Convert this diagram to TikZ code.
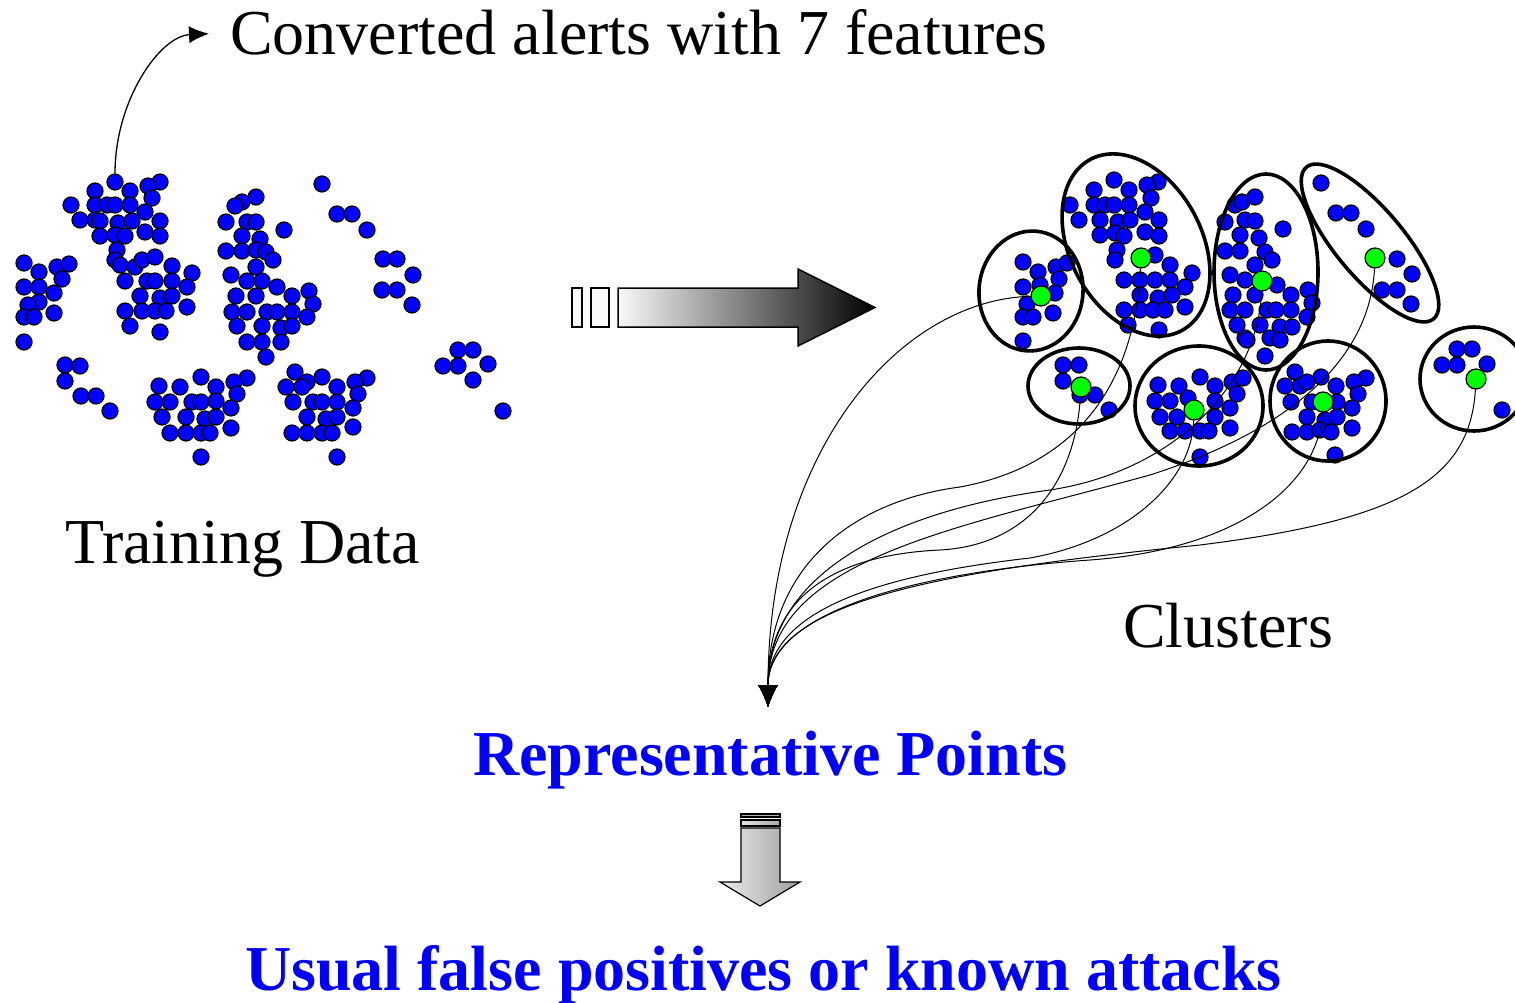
\documentclass[tikz,border=0pt]{standalone}
\usepackage{fontspec}
\setmainfont{Liberation Serif}
\usetikzlibrary{arrows.meta}

\tikzset{
  alertdot/.style={draw=black, fill=blue, line width=1.2pt},
  alertnode/.style={circle, draw=black, fill=blue, line width=1.2pt, minimum size=16pt, inner sep=0pt},
  repnode/.style={circle, draw=black, fill=green, line width=1.2pt, minimum size=20pt, inner sep=0pt},
  cluster/.style={draw=black, line width=3.6pt},
  link/.style={line width=1pt, -{Latex[length=22pt,width=20pt]}},
  bigtext/.style={font=\fontsize{64}{72}\selectfont, inner sep=0pt, anchor=base west},
  bluetext/.style={bigtext, font=\fontsize{64}{72}\selectfont\bfseries, text=blue}
}

\begin{document}
\begin{tikzpicture}[x=1pt, y=-1pt]
        \useasboundingbox (0,0) rectangle (1515,1003);

        % the training data (one alert gets its own node for the arrow)
        \foreach \x/\y in {160/182, 95/191, 130/191, 148/186, 152/198, 71/205, 95/205, 107/205, 115/205, 130/205,
                           145/212, 80/220, 95/220, 100/221, 118/223, 132/221, 160/221, 100/236, 115/235, 125/236,
                           145/232, 160/236, 117/250, 115/260, 120/265,
                           135/267, 142/260, 155/257, 172/266, 192/273, 125/281, 147/281, 155/281, 172/281, 187/287,
                           140/296, 160/298, 172/296, 187/307, 125/311, 142/311, 155/311, 166/311, 130/326, 160/332,
                           24/263, 39/272, 57/267, 69/264, 62/279, 24/287, 39/287, 54/293, 39/302, 28/305,
                           24/317, 34/317, 54/313, 24/342,
                           256/197, 242/202, 235/206, 226/222, 247/222, 256/222, 284/230, 242/236, 260/239, 226/251,
                           242/251, 256/250, 266/252, 273/260, 256/267, 231/275, 247/281, 262/281, 277/287, 236/296,
                           256/296, 292/296, 309/291, 313/304, 232/312, 247/312, 267/312, 277/312, 292/312, 307/317,
                           237/326, 262/326, 281/328, 292/326, 247/342, 262/342, 281/342, 266/357,
                           322/184, 337/214, 352/214, 367/230, 383/259, 397/259, 413/275, 382/290, 397/290, 412/305,
                           458/350, 473/350, 443/366, 458/366, 488/364, 473/380, 503/411,
                           65/365, 80/366, 65/381, 81/396, 96/396, 110/411,
                           201/377, 247/378, 159/386, 180/387, 216/387, 234/382, 237/394, 155/402, 170/402, 192/402,
                           201/402, 216/401, 231/408, 162/417, 186/417, 205/419, 216/417, 170/433, 186/433, 201/433,
                           210/433, 231/428, 201/457,
                           295/372, 307/382, 322/377, 367/378, 286/387, 302/387, 337/387, 355/382, 358/394, 293/402,
                           313/402, 322/402, 337/402, 353/408, 307/417, 326/419, 337/417, 292/433, 307/433, 322/433,
                           332/433, 353/427, 337/457}
            \draw[alertdot] (\x,\y) circle [radius=8];
        \node[alertnode] (alert) at (115,182) {};

        % the clustered alerts
        \foreach \x/\y in {1023/262, 1038/272, 1056/267, 1067/263, 1059/279, 1023/287, 1055/293, 1027/304, 1023/317,
                           1033/317, 1053/313, 1023/341, 1040/285,
                           1114/180, 1158/182, 1147/185, 1094/190, 1129/190, 1151/198, 1070/205, 1094/205, 1105/205,
                           1114/205, 1129/205, 1145/212, 1079/220, 1100/220, 1118/222, 1130/220, 1159/220, 1100/235,
                           1115/233, 1124/236, 1145/232, 1159/236, 1117/250, 1115/260, 1155/255, 1170/265, 1192/273,
                           1124/280, 1140/280, 1155/280, 1170/280, 1185/287, 1140/295, 1158/298, 1172/295, 1124/310,
                           1140/310, 1153/310, 1165/310, 1185/307, 1128/325, 1159/330,
                           1235/205, 1242/202, 1225/222, 1245/220, 1240/235, 1225/251, 1240/251, 1230/275, 1245/280,
                           1233/295, 1230/310, 1245/310, 1237/325, 1245/338, 1255/197, 1255/221, 1283/229, 1259/238,
                           1265/252, 1272/260, 1255/265, 1277/285, 1255/295, 1291/295, 1308/290, 1312/303, 1267/310,
                           1276/310, 1291/310, 1307/317, 1260/325, 1280/327, 1292/327, 1247/340, 1270/338, 1280/340,
                           1265/356,
                           1321/183, 1336/213, 1351/213, 1366/229, 1397/259, 1412/274, 1382/290, 1397/290, 1411/304,
                           1063/365, 1079/365, 1063/381, 1095/395, 1109/410, 1080/395,
                           1200/377, 1158/385, 1179/386, 1215/386, 1232/382, 1243/378, 1155/401, 1170/401, 1188/398,
                           1215/401, 1230/408, 1237/394, 1160/417, 1177/417, 1215/417, 1170/431, 1185/431, 1200/431,
                           1209/431, 1230/428, 1200/457,
                           1295/372, 1321/377, 1366/378, 1285/386, 1300/386, 1307/382, 1336/386, 1354/382, 1358/394,
                           1291/402, 1312/402, 1337/402, 1352/408, 1307/417, 1325/420, 1337/417, 1292/432, 1307/432,
                           1320/430, 1331/432, 1352/428, 1335/455,
                           1457/349, 1472/349, 1442/365, 1457/365, 1487/364, 1502/410}
            \draw[alertdot] (\x,\y) circle [radius=8];

        % the cluster borders
        \draw[cluster, rotate around={-5:(1031,291)}] (1031,291) circle [x radius=52, y radius=60];
        \draw[cluster, rotate around={28:(1136,245)}] (1136,245) circle [x radius=66, y radius=97];
        \draw[cluster] (1266,272) circle [x radius=52, y radius=98];
        \draw[cluster, rotate around={-50:(1370,243)}] (1370,243) circle [x radius=99, y radius=34];
        \draw[cluster] (1079,386) circle [x radius=51, y radius=38];
        \draw[cluster] (1199,406) circle [x radius=64, y radius=60];
        \draw[cluster] (1328,401) circle [x radius=58, y radius=60];
        \draw[cluster] (1474,379) circle [x radius=54, y radius=52];

        % the representative points
        \node[repnode] (rep1) at (1041,296) {};
        \node[repnode] (rep2) at (1141,258) {};
        \node[repnode] (rep3) at (1262,281) {};
        \node[repnode] (rep4) at (1375,258) {};
        \node[repnode] (rep5) at (1081,387) {};
        \node[repnode] (rep6) at (1194,410) {};
        \node[repnode] (rep7) at (1323,402) {};
        \node[repnode] (rep8) at (1476,379) {};
        \coordinate (tip) at (768,707);

        % the texts
        \node[bigtext] (converted) at (230,55) {Converted alerts with 7 features};
        \node[bigtext] (training) at (65,563) {Training Data};
        \node[bigtext] (clusters) at (1123,647) {Clusters};
        \node[bluetext] (reps) at (473,775) {Representative Points};
        \node[bluetext] (usual) at (245,990) {Usual false positives or known attacks};

        % draw the arrows
        \draw[line width=1.3pt, -{Latex[length=20pt,width=17pt]}, shorten >=21pt]
            (alert.north) .. controls (115,100) and (160,36) .. (converted.west);

        \draw[link] (rep1) .. controls (900,300) and (768,450) .. (tip);
        \draw[link] (rep2) .. controls (1135,380) and (1080,465) .. (960,487) .. controls (860,500) and (768,560) .. (tip);
        \draw[link] (rep3) .. controls (1258,380) and (1180,470) .. (1050,490) .. controls (900,510) and (768,570) .. (tip);
        \draw[link] (rep4) .. controls (1370,360) and (1290,430) .. (1150,475) .. controls (950,530) and (768,560) .. (tip);
        \draw[link] (rep5) .. controls (1075,480) and (1030,545) .. (940,550) .. controls (830,555) and (768,600) .. (tip);
        \draw[link] (rep6) .. controls (1192,480) and (1130,540) .. (1030,558) .. controls (880,575) and (768,610) .. (tip);
        \draw[link] (rep7) .. controls (1318,490) and (1230,550) .. (1090,560) .. controls (920,572) and (768,610) .. (tip);
        \draw[link] (rep8) .. controls (1470,480) and (1400,520) .. (1200,545) .. controls (950,570) and (768,600) .. (tip);

        % the shaded block arrows
        \draw[line width=1.5pt, fill=gray!5] (572,288) rectangle (582,327);
        \draw[line width=1.5pt, fill=gray!5] (591,288) rectangle (609,327);
        \draw[line width=1.5pt, left color=gray!5, right color=black]
            (618,288) -- (798,288) -- (798,269) -- (875,307.5) -- (798,346) -- (798,327) -- (618,327) -- cycle;

        \draw[line width=1.2pt, fill=gray!60] (741,814) rectangle (780,817);
        \draw[line width=1.2pt, left color=gray!20, right color=gray!70] (741,820) rectangle (780,826);
        \draw[line width=1.2pt, left color=gray!15, right color=gray!75]
            (741,828) -- (780,828) -- (780,882) -- (800,882) -- (760,906) -- (720,882) -- (741,882) -- cycle;

    \end{tikzpicture}
\end{document}
